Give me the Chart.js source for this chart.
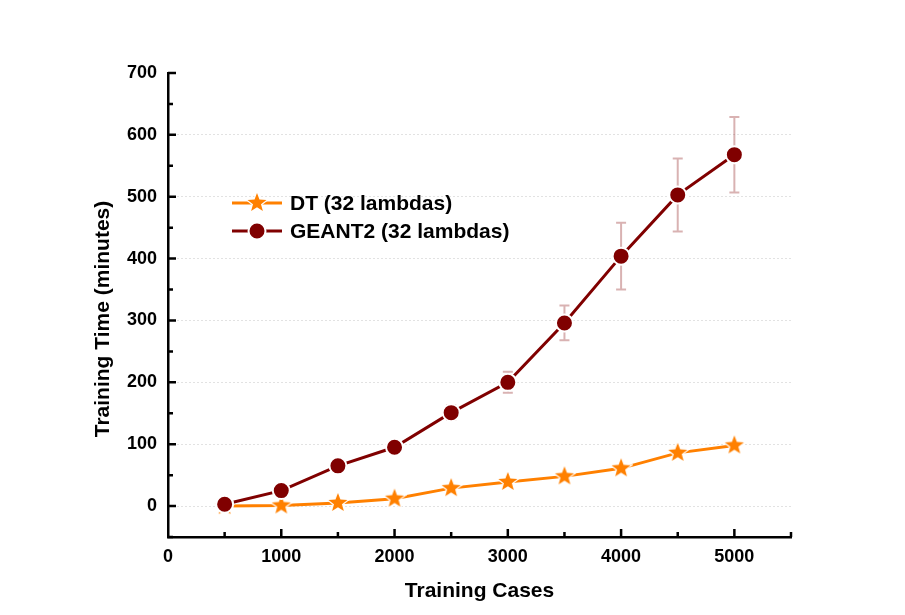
<!DOCTYPE html>
<html>
<head>
<meta charset="utf-8">
<script src="https://cdn.jsdelivr.net/npm/chart.js@4.4.1/dist/chart.umd.min.js"></script>
<style>
  html, body { margin:0; padding:0; background:#fff; }
  #wrap { width:905px; height:615px; }
</style>
</head>
<body>
<div id="wrap"><canvas id="chart" width="905" height="615"></canvas></div>
<script>
// values
const cases = [500, 1000, 1500, 2000, 2500, 3000, 3500, 4000, 4500, 5000];
const dtTime = [0, 1, 5, 12, 29, 39, 48, 61, 86, 98];
const geantTime = [3, 25, 65, 95, 151, 200, 296, 404, 503, 568];
const geantErr = [0, 1, 2, 3, 12, 17, 28, 54, 59, 61];
const seriesNames = ['DT (32 lambdas)', 'GEANT2 (32 lambdas)'];
const xTicks = [0, 1000, 2000, 3000, 4000, 5000];
const yTicks = [0, 100, 200, 300, 400, 500, 600, 700];
const yTitle = 'Training Time (minutes)';

const ORANGE = '#ff8000', DARKRED = '#800000';
const FONT = '"Liberation Sans", Arial, sans-serif';

function makeStar(r){
  let c = document.createElement('canvas');
  let s = Math.ceil(r*2+4);
  c.width = s; c.height = s;
  let g = c.getContext('2d');
  g.beginPath();
  for(let i=0;i<10;i++){
    let rad = i%2==0 ? r : r*0.42;
    let a = -Math.PI/2 + i*Math.PI/5;
    let px = s/2 + rad*Math.cos(a), py = s/2 + rad*Math.sin(a);
    if(i==0) g.moveTo(px,py); else g.lineTo(px,py);
  }
  g.closePath();
  g.strokeStyle = '#fff'; g.lineWidth = 2.5; g.stroke();
  g.fillStyle = ORANGE; g.fill();
  return c;
}
const starImg = makeStar(10);

const errorBars = {
  id:'errorBars',
  beforeDatasetsDraw(chart){
    const {ctx, scales:{x,y}} = chart;
    ctx.save();
    ctx.strokeStyle = 'rgba(128,0,0,0.3)';
    ctx.lineWidth = 2;
    cases.forEach((c,i)=>{
      if(!geantErr[i]) return;
      let px = x.getPixelForValue(c);
      let top = y.getPixelForValue(geantTime[i]+geantErr[i]);
      let bot = y.getPixelForValue(geantTime[i]-geantErr[i]);
      ctx.beginPath();
      ctx.moveTo(px,top); ctx.lineTo(px,bot);
      ctx.moveTo(px-5,top); ctx.lineTo(px+5,top);
      ctx.moveTo(px-5,bot); ctx.lineTo(px+5,bot);
      ctx.stroke();
    });
    ctx.restore();
  }
};

const innerTicks = {
  id:'innerTicks',
  afterDraw(chart){
    const {ctx, scales:{x,y}, chartArea} = chart;
    ctx.save();
    ctx.strokeStyle = '#000';
    ctx.lineWidth = 2.5;
    ctx.beginPath();
    for(let v=-50; v<=700; v+=50){
      let py = y.getPixelForValue(v);
      let len = v%100==0 ? 8 : 5;
      ctx.moveTo(chartArea.left, py); ctx.lineTo(chartArea.left+len, py);
    }
    for(let v=500; v<=5500; v+=500){
      let px = x.getPixelForValue(v);
      let len = v%1000==0 ? 8 : 5;
      ctx.moveTo(px, chartArea.bottom); ctx.lineTo(px, chartArea.bottom-len);
    }
    ctx.stroke();

    // y axis title, sits a bit below the middle in the original
    ctx.save();
    ctx.translate(103, 319);
    ctx.rotate(-Math.PI/2);
    ctx.fillStyle = '#000';
    ctx.font = 'bold 21px ' + FONT;
    ctx.textAlign = 'center';
    ctx.textBaseline = 'middle';
    ctx.fillText(yTitle, 0, 0);
    ctx.restore();

    // legend
    const rows = [
      {y:203, color:ORANGE, star:true, name:seriesNames[0]},
      {y:231, color:DARKRED, star:false, name:seriesNames[1]}
    ];
    rows.forEach(r=>{
      ctx.strokeStyle = r.color; ctx.lineWidth = 3;
      ctx.beginPath(); ctx.moveTo(232,r.y); ctx.lineTo(282,r.y); ctx.stroke();
      if(r.star){
        ctx.drawImage(starImg, 257-starImg.width/2, r.y-starImg.height/2);
      } else {
        ctx.beginPath(); ctx.arc(257, r.y, 8.5, 0, Math.PI*2);
        ctx.fillStyle = DARKRED; ctx.fill();
        ctx.strokeStyle='#fff'; ctx.lineWidth=2; ctx.stroke();
      }
      ctx.fillStyle = '#000';
      ctx.font = 'bold 21px ' + FONT;
      ctx.textBaseline = 'middle';
      ctx.textAlign = 'left';
      ctx.fillText(r.name, 290, r.y+1);
    });
    ctx.restore();
  }
};

new Chart(document.getElementById('chart').getContext('2d'), {
  type:'line',
  data:{
    labels: cases,
    datasets:[
      {label:seriesNames[0], data: cases.map((c,i)=>({x:c, y:dtTime[i]})),
       borderColor:ORANGE, borderWidth:3, pointStyle:starImg, order:2},
      {label:seriesNames[1], data: cases.map((c,i)=>({x:c, y:geantTime[i]})),
       borderColor:DARKRED, backgroundColor:DARKRED, borderWidth:3,
       pointStyle:'circle', pointRadius:8.5, pointBackgroundColor:DARKRED,
       pointBorderColor:'#fff', pointBorderWidth:2, order:1}
    ]
  },
  options:{
    responsive:false,
    animation:false,
    layout:{ padding:{ left:0, top:73, right:114, bottom:0 } },
    plugins:{ legend:{display:false}, tooltip:{enabled:false} },
    scales:{
      x:{
        type:'linear', min:0, max:5500,
        afterFit: s => { s.height = 78; },
        ticks:{
          stepSize:500, autoSkip:false, maxRotation:0, padding:9, color:'#000',
          font:{family:FONT, size:18, weight:'bold'},
          callback: v => xTicks.includes(v) ? v : ''
        },
        grid:{ display:false, drawTicks:false },
        border:{ color:'#000', width:2.5 },
        title:{ display:true, text:'Training Cases', color:'#000',
          font:{family:FONT, size:21, weight:'bold'}, padding:{top:0,bottom:11} }
      },
      y:{
        min:-50, max:700,
        afterFit: s => { s.width = 168; },
        ticks:{
          stepSize:50, autoSkip:false, padding:11, color:'#000',
          font:{family:FONT, size:18, weight:'bold'},
          callback: v => yTicks.includes(v) ? v : ''
        },
        grid:{
          drawTicks:false, lineWidth:1,
          color: ctx => (ctx.tick && ctx.tick.value>=0 && ctx.tick.value<700 && ctx.tick.value%100==0) ? '#c4c4c4' : 'rgba(0,0,0,0)'
        },
        border:{ color:'#000', width:2.5, dash:[1,3] },
        title:{ display:false }
      }
    }
  },
  plugins:[errorBars, innerTicks]
});
</script>
</body>
</html>
